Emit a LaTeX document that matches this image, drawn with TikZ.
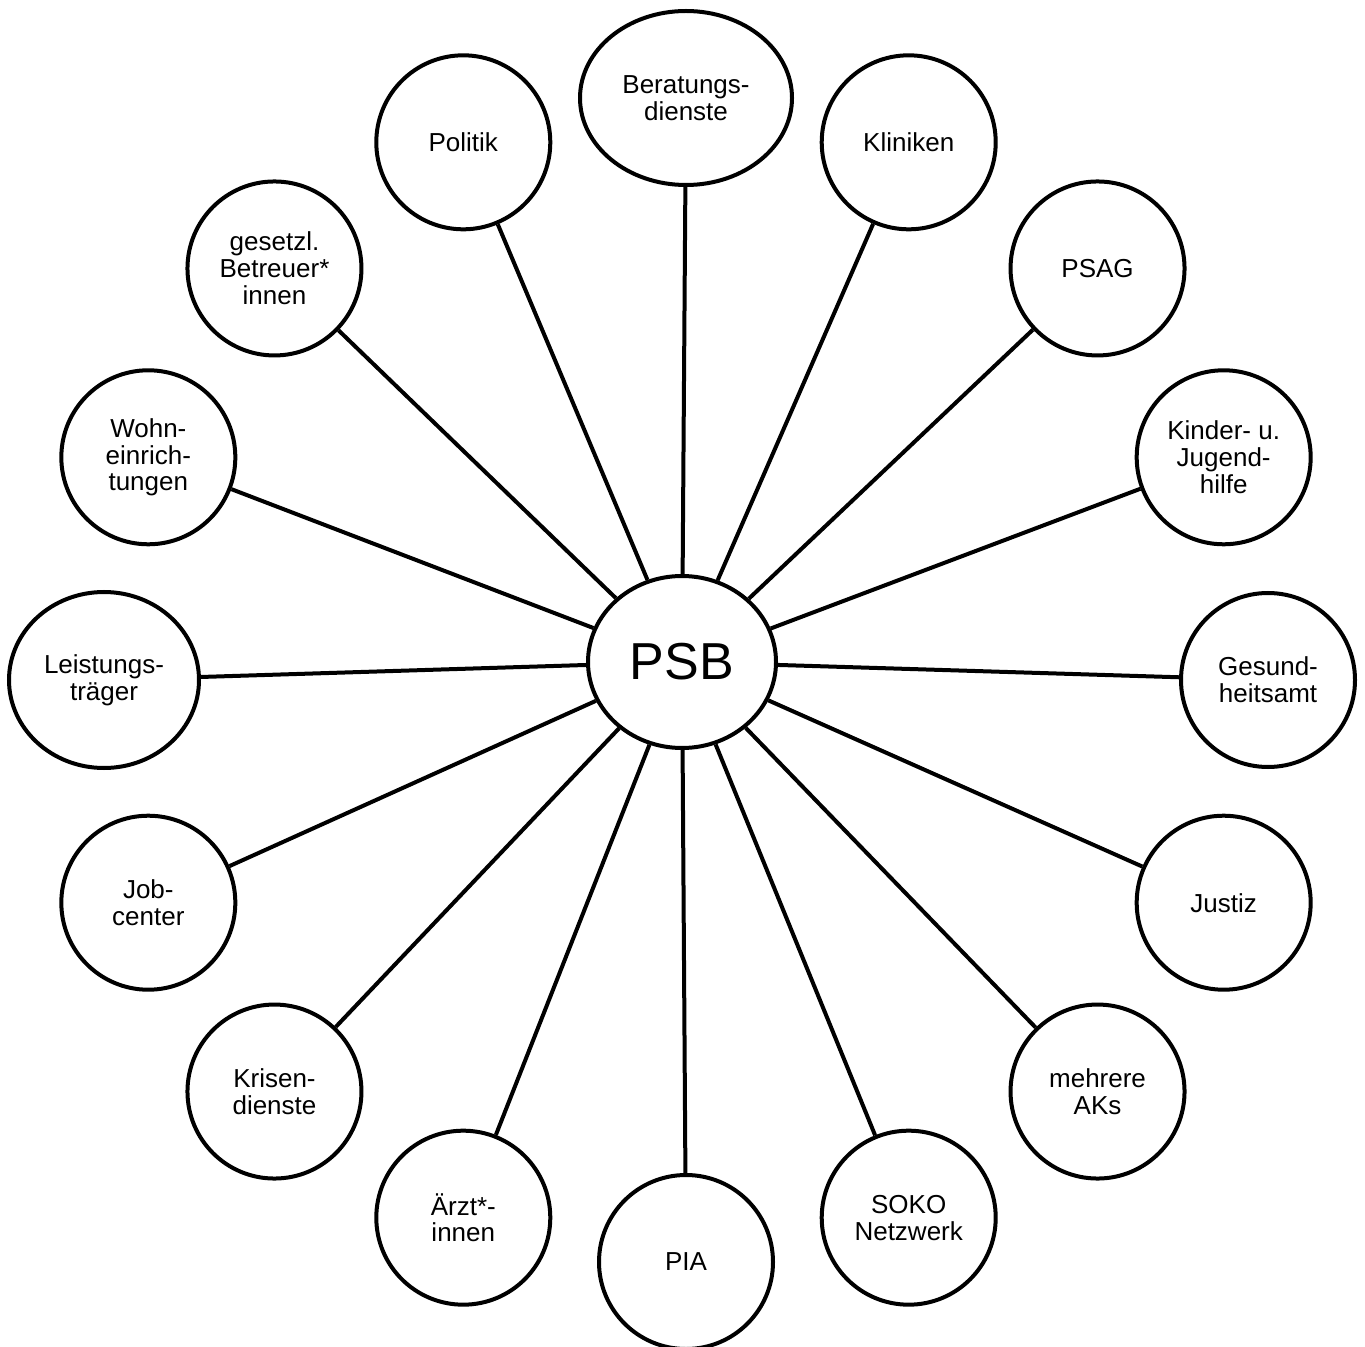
\documentclass[tikz,border=0pt]{standalone}
\usepackage{fontspec}
\setmainfont{Liberation Sans}
\usetikzlibrary{shapes.geometric}
\tikzset{party/.style = {draw, ellipse, line width = 2pt, inner sep = 0,
                         minimum width = 87pt, minimum height = 87pt,
                         align = center, font = \fontsize{13pt}{13.4pt}\selectfont}}
\tikzset{hub/.style = {party, minimum width = 94pt, minimum height = 86pt,
                       font = \fontsize{26pt}{28pt}\selectfont}}
\tikzset{link/.style = {line width = 2pt}}

\begin{document}
\begin{tikzpicture}
    \useasboundingbox (0, 0) rectangle (682.5pt, -673.5pt);
    \node [hub] (psb) at (341pt, -331pt) {PSB};
    \begin{scope}[shift = {(343pt, -340pt)}]
      \node [party, minimum width = 106pt] (beratung) at (90:291pt) {Beratungs-\\dienste};
      \node [party] (kliniken) at (67.5:291pt) {Kliniken};
      \node [party] (psag) at (45:291pt) {PSAG};
      \node [party] (jugend) at (22.5:291pt) {Kinder- u.\\Jugend-\\hilfe};
      \node [party] (gesund) at (0:291pt) {Gesund-\\heitsamt};
      \node [party] (justiz) at (-22.5:291pt) {Justiz};
      \node [party] (aks) at (-45:291pt) {mehrere\\AKs};
      \node [party] (soko) at (-67.5:291pt) {SOKO\\Netzwerk};
      \node [party] (pia) at (-90:291pt) {PIA};
      \node [party] (aerzte) at (-112.5:291pt) {Ärzt*-\\innen};
      \node [party] (krise) at (-135:291pt) {Krisen-\\dienste};
      \node [party] (job) at (-157.5:291pt) {Job-\\center};
      \node [party, minimum width = 95pt, minimum height = 88pt] (leistung) at (180:291pt) {Leistungs-\\träger};
      \node [party] (wohnen) at (157.5:291pt) {Wohn-\\einrich-\\tungen};
      \node [party] (betreuer) at (135:291pt) {gesetzl.\\Betreuer*\\innen};
      \node [party] (politik) at (112.5:291pt) {Politik};
    \end{scope}
    \foreach \n in {beratung, kliniken, psag, jugend, gesund, justiz, aks, soko,
                    pia, aerzte, krise, job, leistung, wohnen, betreuer, politik}
      \draw [link] (psb) -- (\n);
  \end{tikzpicture}
\end{document}
